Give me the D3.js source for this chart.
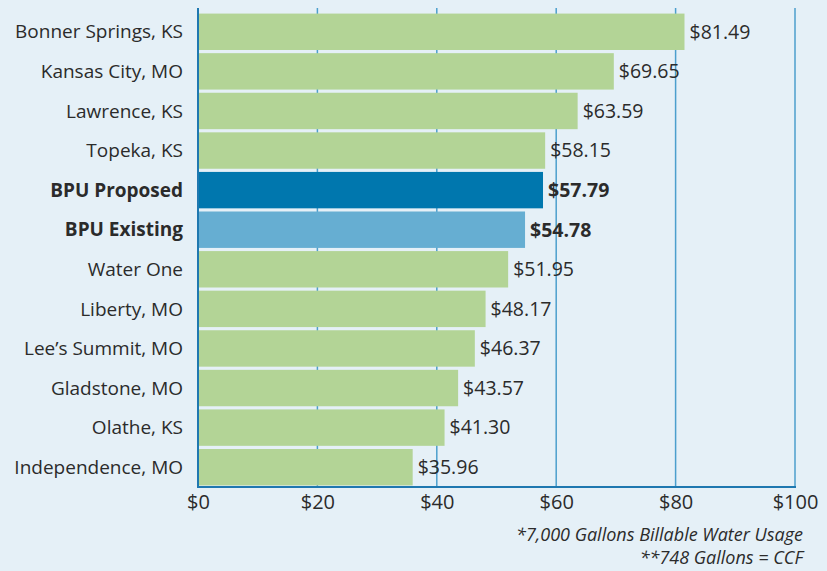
<!DOCTYPE html>
<html><head><meta charset="utf-8">
<script src="https://cdn.jsdelivr.net/npm/d3@7/dist/d3.min.js"></script>
<style>
html,body{margin:0;padding:0;background:#e5f0f7;}
svg{display:block;}
text{font-family:"Open Sans","Noto Sans",sans-serif;fill:#2b2b2b;}
</style></head>
<body>
<svg id="chart" width="827" height="571"></svg>
<script>
const categories = ["Bonner Springs, KS","Kansas City, MO","Lawrence, KS","Topeka, KS","BPU Proposed","BPU Existing","Water One","Liberty, MO","Lee\u2019s Summit, MO","Gladstone, MO","Olathe, KS","Independence, MO"];
const values = [81.49,69.65,63.59,58.15,57.79,54.78,51.95,48.17,46.37,43.57,41.30,35.96];
const highlight = ["BPU Proposed","BPU Existing"];
const tickValues = [0,20,40,60,80,100];
const footnotes = ["*7,000 Gallons Billable Water Usage","**748 Gallons = CCF"];

const svg = d3.select("#chart");
svg.append("rect").attr("width",827).attr("height",571).attr("fill","#e5f0f7");

const x = d3.scaleLinear().domain([0,100]).range([198,795]);
const y = d3.scaleBand().domain(categories).range([12,487]).paddingInner(0.08).paddingOuter(0.04);
const colorFor = c => c==="BPU Proposed" ? "#0077ae" : c==="BPU Existing" ? "#66aed2" : "#b3d496";

// gridlines
svg.append("g").selectAll("line").data(tickValues.filter(d=>d>0)).join("line")
  .attr("x1",d=>x(d)).attr("x2",d=>x(d)).attr("y1",8).attr("y2",487)
  .attr("stroke","#4c9fcd").attr("stroke-width",1.5);

// bars
svg.append("g").selectAll("rect").data(categories).join("rect")
  .attr("x",x(0)).attr("y",d=>y(d))
  .attr("width",(d,i)=>x(values[i])-x(0)).attr("height",y.bandwidth())
  .attr("fill",d=>colorFor(d));

// axis lines
svg.append("line").attr("x1",x(0)).attr("x2",x(0)).attr("y1",8).attr("y2",487.5)
  .attr("stroke","#1f78b0").attr("stroke-width",2);
svg.append("line").attr("x1",x(0)-1).attr("x2",x(100)+1).attr("y1",487).attr("y2",487)
  .attr("stroke","#1f78b0").attr("stroke-width",2);

// category labels
svg.append("g").selectAll("text").data(categories).join("text")
  .attr("x",183).attr("y",d=>y(d)+y.bandwidth()/2).attr("dy","0.35em")
  .attr("text-anchor","end").attr("font-size",19)
  .attr("font-weight",d=>highlight.includes(d)?"bold":"normal")
  .text(d=>d);

// value labels
svg.append("g").selectAll("text").data(categories).join("text")
  .attr("x",(d,i)=>x(values[i])+5).attr("y",d=>y(d)+y.bandwidth()/2).attr("dy","0.35em")
  .attr("font-size",19.5)
  .attr("font-weight",d=>highlight.includes(d)?"bold":"normal")
  .text((d,i)=>"$"+values[i].toFixed(2));

// x axis tick labels
const xAxis = d3.axisBottom(x).tickValues(tickValues).tickSize(0).tickPadding(8).tickFormat(d=>"$"+d);
const gx = svg.append("g").attr("transform","translate(0,487)").call(xAxis);
gx.select(".domain").remove();
gx.selectAll("text").attr("font-size",20).attr("fill","#2b2b2b").style("font-family","'Open Sans','Noto Sans',sans-serif");

// footnotes
svg.append("g").selectAll("text").data(footnotes).join("text")
  .attr("x",803).attr("y",(d,i)=>541+i*23).attr("text-anchor","end")
  .attr("font-size",18).attr("font-style","italic").attr("fill","#444")
  .text(d=>d);
</script>
</body></html>
